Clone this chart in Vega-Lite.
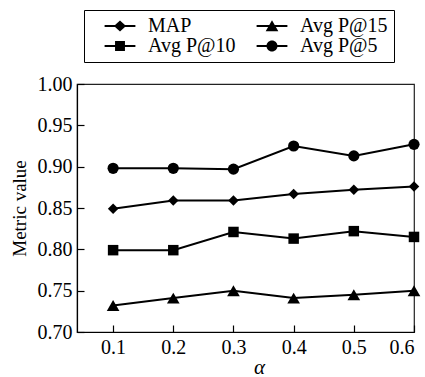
{
  "$schema": "https://vega.github.io/schema/vega-lite/v6.json",
  "width": 337,
  "height": 248,
  "autosize": {"type": "none"},
  "padding": {"left": 77, "top": 84, "right": 11, "bottom": 45},
  "background": "white",
  "config": {
    "view": {"stroke": "#222", "strokeWidth": 1.2},
    "font": "Liberation Serif",
    "axis": {
      "grid": false,
      "domainColor": "black",
      "domainWidth": 1.2,
      "tickColor": "black",
      "tickWidth": 1.2,
      "labelFont": "Liberation Serif",
      "labelFontSize": 20,
      "labelColor": "black",
      "titleFont": "Liberation Serif",
      "titleFontWeight": "normal",
      "titleColor": "black"
    }
  },
  "data": {
    "values": [
      {"series": "MAP", "alpha": 0.1, "value": 0.849},
      {"series": "MAP", "alpha": 0.2, "value": 0.859},
      {"series": "MAP", "alpha": 0.3, "value": 0.859},
      {"series": "MAP", "alpha": 0.4, "value": 0.867},
      {"series": "MAP", "alpha": 0.5, "value": 0.872},
      {"series": "MAP", "alpha": 0.6, "value": 0.876},
      {"series": "Avg P@10", "alpha": 0.1, "value": 0.799},
      {"series": "Avg P@10", "alpha": 0.2, "value": 0.799},
      {"series": "Avg P@10", "alpha": 0.3, "value": 0.821},
      {"series": "Avg P@10", "alpha": 0.4, "value": 0.813},
      {"series": "Avg P@10", "alpha": 0.5, "value": 0.822},
      {"series": "Avg P@10", "alpha": 0.6, "value": 0.815},
      {"series": "Avg P@15", "alpha": 0.1, "value": 0.732},
      {"series": "Avg P@15", "alpha": 0.2, "value": 0.741},
      {"series": "Avg P@15", "alpha": 0.3, "value": 0.750},
      {"series": "Avg P@15", "alpha": 0.4, "value": 0.741},
      {"series": "Avg P@15", "alpha": 0.5, "value": 0.745},
      {"series": "Avg P@15", "alpha": 0.6, "value": 0.750},
      {"series": "Avg P@5", "alpha": 0.1, "value": 0.898},
      {"series": "Avg P@5", "alpha": 0.2, "value": 0.898},
      {"series": "Avg P@5", "alpha": 0.3, "value": 0.897},
      {"series": "Avg P@5", "alpha": 0.4, "value": 0.925},
      {"series": "Avg P@5", "alpha": 0.5, "value": 0.913},
      {"series": "Avg P@5", "alpha": 0.6, "value": 0.927}
    ]
  },
  "encoding": {
    "x": {
      "field": "alpha",
      "type": "quantitative",
      "scale": {"domain": [0.04, 0.6], "nice": false, "zero": false},
      "axis": {
        "values": [0.1, 0.2, 0.3, 0.4, 0.5, 0.6],
        "format": ".1f",
        "tickSize": -7,
        "labelPadding": 12,
        "title": "α",
        "titleFontStyle": "italic",
        "titleFontSize": 21,
        "titlePadding": -1,
        "titleX": 182
      }
    },
    "y": {
      "field": "value",
      "type": "quantitative",
      "scale": {"domain": [0.7, 1.0], "nice": false, "zero": false},
      "axis": {
        "values": [0.7, 0.75, 0.8, 0.85, 0.9, 0.95, 1.0],
        "format": ".2f",
        "tickSize": -7,
        "labelPadding": 12,
        "title": "Metric value",
        "titleFontSize": 19,
        "titlePadding": 8
      }
    }
  },
  "layer": [
    {
      "mark": {"type": "line", "color": "black", "strokeWidth": 2},
      "encoding": {"detail": {"field": "series"}}
    },
    {
      "mark": {"type": "point", "filled": true, "color": "black", "opacity": 1},
      "encoding": {
        "shape": {
          "condition": [
            {"test": "datum.series === 'MAP'", "value": "diamond"},
            {"test": "datum.series === 'Avg P@15'", "value": "triangle-up"},
            {"test": "datum.series === 'Avg P@10'", "value": "square"}
          ],
          "value": "circle"
        },
        "size": {
          "condition": [
            {"test": "datum.series === 'Avg P@15'", "value": 160},
            {"test": "datum.series === 'Avg P@5'", "value": 125}
          ],
          "value": 110
        }
      }
    },
    {
      "mark": {"type": "point", "filled": true, "color": "black", "opacity": 0},
      "encoding": {
        "shape": {
          "field": "series",
          "type": "nominal",
          "scale": {
            "domain": ["MAP", "Avg P@15", "Avg P@10", "Avg P@5"],
            "range": [
              "M-2.8,-0.18H2.8V0.18H-2.8ZM-1.1,0L0,-1.0L1.1,0L0,1.0Z",
              "M-2.8,-0.18H2.8V0.18H-2.8ZM0,-1.05L1.15,0.95L-1.15,0.95Z",
              "M-2.8,-0.18H2.8V0.18H-2.8ZM-0.9,-0.9H0.9V0.9H-0.9Z",
              "M-2.8,-0.18H2.8V0.18H-2.8ZM-1.0,0A1.0,1.0 0 1,1 1.0,0A1.0,1.0 0 1,1 -1.0,0Z"
            ]
          },
          "legend": {
            "title": null,
            "orient": "none",
            "legendX": 7,
            "legendY": -74,
            "columns": 2,
            "direction": "horizontal",
            "strokeColor": "black",
            "padding": 6,
            "symbolOffset": 20,
            "columnPadding": 6,
            "rowPadding": -1,
            "symbolSize": 121,
            "symbolOpacity": 1,
            "symbolFillColor": "black",
            "symbolStrokeWidth": 0,
            "labelFont": "Liberation Serif",
            "labelFontSize": 20,
            "labelColor": "black",
            "labelOffset": 18,
            "labelLimit": 200,
            "encode": {
              "symbols": {
                "fill": {"value": "black"},
                "opacity": {"value": 1}
              }
            }
          }
        }
      }
    }
  ]
}
